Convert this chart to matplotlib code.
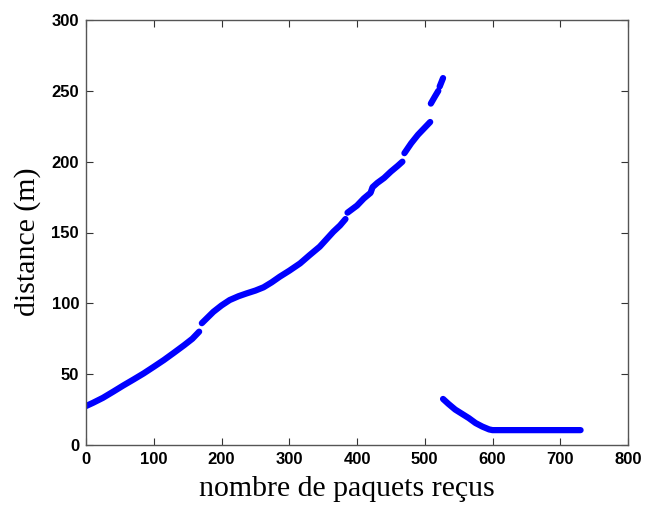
import numpy as np
import matplotlib
matplotlib.use("Agg")
import matplotlib.pyplot as plt

# Segment 1 (rising distance), pieces separated by small gaps
seg1_x = [0, 10, 25, 40, 55, 70, 85, 100, 115, 130, 145, 157, 167]
seg1_y = [27.5, 29.7, 33.3, 37.6, 42, 46.2, 50.5, 55.2, 60, 65.2, 70.5, 75, 80]

seg2_x = [171, 188, 200, 212, 225, 237, 250, 262, 274, 286, 300, 316, 330, 345, 365, 375, 383]
seg2_y = [86, 94, 98.5, 102.3, 105, 107, 109, 111.3, 114.8, 118.8, 123, 128.2, 134, 140,
          150.5, 155, 159.5]

seg3_x = [386, 400, 410, 420, 423, 430, 440, 450, 460, 467]
seg3_y = [164, 169, 174, 178, 182, 185, 188.5, 193, 197, 200]

seg4_x = [470, 480, 490, 500, 508]
seg4_y = [206, 213, 219, 224, 228]

seg5_x = [509, 515, 520]
seg5_y = [241, 246, 250]

seg6_x = [522, 527]
seg6_y = [253, 259]

# Segment after the drop
seg7_x = [527, 535, 545, 555, 565, 575, 585, 595, 600, 650, 700, 730]
seg7_y = [32.5, 29, 25, 22, 19, 15.5, 13, 11, 10.5, 10.5, 10.5, 10.5]

xticks = [0, 100, 200, 300, 400, 500, 600, 700, 800]
yticks = [0, 50, 100, 150, 200, 250, 300]

fig = plt.figure(figsize=(6.46, 5.09), dpi=100)
ax = fig.add_axes([86/646, 1 - 445/509, (628-86)/646, (445-20)/509])

for xs, ys in [(seg1_x, seg1_y), (seg2_x, seg2_y), (seg3_x, seg3_y), (seg4_x, seg4_y),
               (seg5_x, seg5_y), (seg6_x, seg6_y), (seg7_x, seg7_y)]:
    ax.plot(xs, ys, color="#0000ff", linewidth=4.5, solid_capstyle="round",
            solid_joinstyle="round")

ax.set_xlim(0, 800)
ax.set_ylim(0, 300)
ax.set_xticks(xticks)
ax.set_yticks(yticks)
ax.tick_params(direction="in", length=5, width=0.8, top=True, right=True, pad=5,
               color="#333333")
for lab in ax.get_xticklabels() + ax.get_yticklabels():
    lab.set_fontfamily("Liberation Sans")
    lab.set_fontweight("bold")
    lab.set_fontsize(12)
for sp in ax.spines.values():
    sp.set_color("#555555")
    sp.set_linewidth(1.0)

ax.set_xlabel("nombre de paquets reçus", fontfamily="Liberation Serif", fontsize=21.5)
ax.set_ylabel("distance (m)", fontfamily="Liberation Serif", fontsize=21.5)
ax.xaxis.set_label_coords((347 - 86) / 542, -0.073)
ax.yaxis.set_label_coords(-0.083, 0.479)

fig.savefig("out.png", dpi=100, facecolor="white")
